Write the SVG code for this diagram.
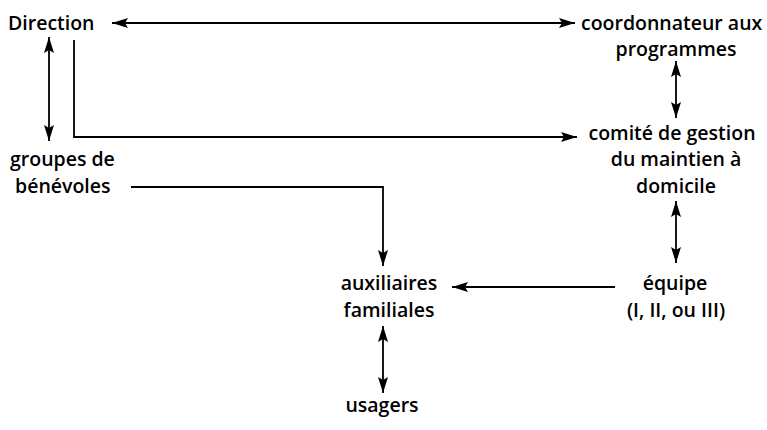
<svg xmlns="http://www.w3.org/2000/svg" width="767" height="430" viewBox="0 0 767 430">
<defs>
<style>
text{font-family:"Open Sans","Liberation Sans",sans-serif;font-size:19.5px;fill:#000;font-weight:600}
.c line,.c path{stroke:#000;stroke-width:1.8;fill:none}
</style>
<marker id="ah" viewBox="0 0 16 10" refX="16" refY="5" markerWidth="16" markerHeight="10" markerUnits="userSpaceOnUse" orient="auto-start-reverse">
<path d="M0,0 L16,5 L0,10 L3,5 Z" fill="#000"/>
</marker>
</defs>
<rect width="767" height="430" fill="#fff"/>
<g class="c" id="connectors">
<line x1="112" y1="23" x2="575" y2="23" marker-start="url(#ah)" marker-end="url(#ah)"/>
<line x1="49" y1="37" x2="49" y2="141" marker-start="url(#ah)" marker-end="url(#ah)"/>
<path d="M74 40 V137 H577" marker-end="url(#ah)"/>
<line x1="676" y1="61" x2="676" y2="118" marker-start="url(#ah)" marker-end="url(#ah)"/>
<path d="M131 187 H383 V266" marker-end="url(#ah)"/>
<line x1="676" y1="201" x2="676" y2="263" marker-start="url(#ah)" marker-end="url(#ah)"/>
<path d="M615 287 H452" marker-end="url(#ah)"/>
<line x1="383" y1="326" x2="383" y2="393" marker-start="url(#ah)" marker-end="url(#ah)"/>
</g>
<g id="direction"><text x="8" y="30">Direction</text></g>
<g id="coordonnateur"><text x="581" y="30">coordonnateur aux</text><text x="676" y="56" text-anchor="middle">programmes</text></g>
<g id="comite"><text x="672" y="140" text-anchor="middle">comité de gestion</text><text x="676" y="166" text-anchor="middle">du maintien à</text><text x="676" y="193" text-anchor="middle">domicile</text></g>
<g id="benevoles"><text x="10" y="166">groupes de</text><text x="15" y="193">bénévoles</text></g>
<g id="auxiliaires"><text x="389" y="290" text-anchor="middle">auxiliaires</text><text x="389" y="317" text-anchor="middle">familiales</text></g>
<g id="equipe"><text x="675" y="290" text-anchor="middle">équipe</text><text x="676" y="317" text-anchor="middle">(I, II, ou III)</text></g>
<g id="usagers"><text x="382" y="412" text-anchor="middle">usagers</text></g>
</svg>
